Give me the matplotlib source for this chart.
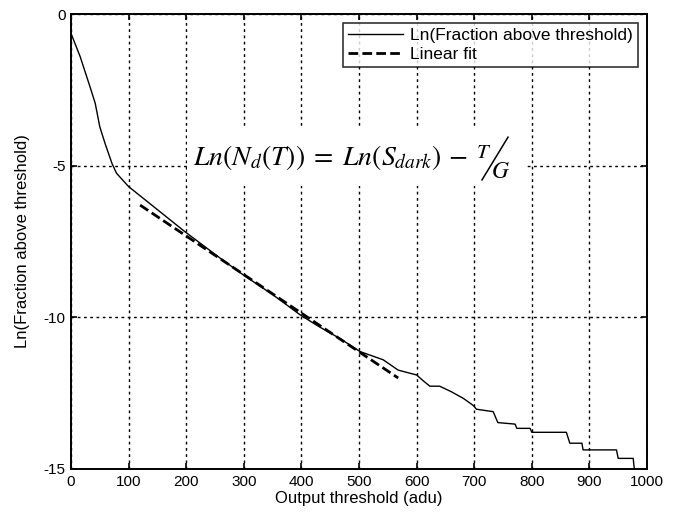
import matplotlib
matplotlib.use('Agg')
import matplotlib.pyplot as plt
from matplotlib.patches import Rectangle

plt.rcParams['font.family'] = ['Liberation Sans', 'DejaVu Sans']
plt.rcParams['mathtext.fontset'] = 'stix'
plt.rcParams['axes.unicode_minus'] = False

thr_x = [0, 16, 33, 42, 50, 59, 71, 79, 100, 150, 198, 259, 299, 350, 398, 430, 467,
         502, 542, 568, 600, 612, 623, 640, 660, 681, 698, 704, 733, 741, 771, 774,
         797, 800, 860, 866, 887, 889, 947, 950, 976, 978]
thr_y = [-0.64, -1.41, -2.4, -2.94, -3.72, -4.26, -4.92, -5.25, -5.69, -6.45, -7.18,
         -8.05, -8.6, -9.25, -9.92, -10.3, -10.7, -11.13, -11.4, -11.74, -11.9,
         -12.1, -12.27, -12.27, -12.45, -12.67, -12.9, -13.03, -13.11, -13.47,
         -13.52, -13.66, -13.66, -13.79, -13.79, -14.15, -14.15, -14.37, -14.37,
         -14.65, -14.65, -15.0]

# linear fit end points
fit_x = [120, 568]
fit_y = [-6.3, -12.0]

XTICKS = list(range(0, 1001, 100))
YTICKS = [0, -5, -10, -15]

fig = plt.figure(figsize=(6.8, 5.18), dpi=100)
ax = fig.add_axes([71 / 680, 49 / 518, 576 / 680, 455 / 518])

ax.plot(thr_x, thr_y, color='black', lw=1.0, label='Ln(Fraction above threshold)', zorder=3)
ax.plot(fit_x, fit_y, color='black', lw=2.0, linestyle=(0, (3.5, 1.5)), label='Linear fit', zorder=4)

ax.set_xlim(0, 1000)
ax.set_ylim(-15, 0)
ax.set_xticks(XTICKS)
ax.set_yticks(YTICKS)
ax.tick_params(direction='in', length=4, width=1.2, top=True, right=True,
               labelsize=11, pad=4, colors='black')
for s in ax.spines.values():
    s.set_linewidth(1.4)
ax.grid(True, color='black', linestyle=(0, (2, 2.5)), lw=1.0)
ax.set_axisbelow(True)

ax.set_xlabel('Output threshold (adu)', fontsize=12, labelpad=2)
ax.set_ylabel('Ln(Fraction above threshold)', fontsize=12, labelpad=10)

# white block behind the equation (hides grid)
ax.add_patch(Rectangle((201, -5.67), 591, 1.98, facecolor='white', edgecolor='none', zorder=2))
ax.text(212, -4.98, r'$Ln(N_d(T))\;=\;Ln(S_{dark})\,-$', fontsize=20,
        va='baseline', ha='left', zorder=5)
ax.text(716, -4.55, r'$T$', fontsize=15, ha='center', va='center', zorder=5)
ax.plot([713.5, 758.7], [-5.47, -4.06], color='black', lw=1.1, zorder=5)
ax.text(746, -5.21, r'$G$', fontsize=17, ha='center', va='center', zorder=5)

leg = ax.legend(loc='upper right', fontsize=12.5, frameon=True, fancybox=False,
                edgecolor='black', handlelength=3.2, borderaxespad=0.5,
                borderpad=0.3, labelspacing=0.2, handletextpad=0.4)
leg.get_frame().set_linewidth(1.2)
leg.set_zorder(6)

fig.savefig('out.png', dpi=100)
